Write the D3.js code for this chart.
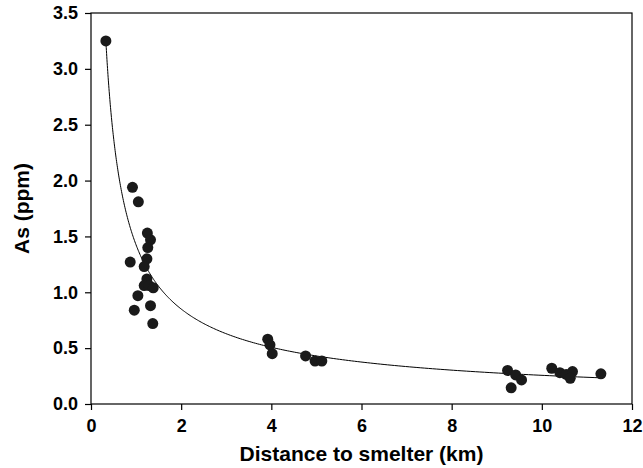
<!DOCTYPE html>
<html>
<head>
<meta charset="utf-8">
<script src="https://cdn.jsdelivr.net/npm/d3@7/dist/d3.min.js"></script>
<style>
  body { margin: 0; background: #fff; }
  svg { display: block; font-family: "Liberation Sans", Arial, sans-serif; }
</style>
</head>
<body>
<svg id="chart" width="643" height="468"></svg>
<script>
// distance to smelter (km) and As (ppm)
const distance = [
  0.33, 0.92, 1.05, 1.25, 1.32, 1.26, 1.24, 0.87, 1.18, 1.24, 1.18, 1.29,
  1.38, 1.04, 1.32, 0.96, 1.37,
  3.92, 3.97, 4.02, 4.76, 4.97, 5.12,
  9.24, 9.42, 9.55, 9.32, 10.22, 10.40, 10.54, 10.68, 10.63, 11.31
];
const arsenic = [
  3.25, 1.94, 1.81, 1.53, 1.47, 1.40, 1.30, 1.27, 1.23, 1.12, 1.06, 1.06,
  1.04, 0.97, 0.88, 0.84, 0.72,
  0.58, 0.53, 0.45, 0.43, 0.385, 0.385,
  0.30, 0.26, 0.215, 0.145, 0.32, 0.28, 0.265, 0.29, 0.23, 0.27
];

// power-law trend line y = a * x^b
const fitA = 1.424;
const fitB = -0.744;
const fitRange = [0.33, 11.31];

const xTicks = [0, 2, 4, 6, 8, 10, 12];
const yTicks = [0, 0.5, 1, 1.5, 2, 2.5, 3, 3.5];

const MARGIN = { LEFT: 91, RIGHT: 11, TOP: 13, BOTTOM: 64 };
const svg = d3.select("#chart");
const W = +svg.attr("width"), H = +svg.attr("height");

const x = d3.scaleLinear().domain([0, 12]).range([MARGIN.LEFT, W - MARGIN.RIGHT]);
const y = d3.scaleLinear().domain([0, 3.5]).range([H - MARGIN.BOTTOM, MARGIN.TOP]);

// frame
svg.append("rect")
  .attr("x", x(0)).attr("y", y(3.5))
  .attr("width", x(12) - x(0)).attr("height", y(0) - y(3.5))
  .attr("fill", "none").attr("stroke", "#000").attr("stroke-width", 1.2);

// axes
const xAxis = svg.append("g")
  .attr("transform", `translate(0,${y(0)})`)
  .call(d3.axisBottom(x).tickValues(xTicks).tickSize(6).tickPadding(9).tickFormat(d3.format("d")));
const yAxis = svg.append("g")
  .attr("transform", `translate(${x(0)},0)`)
  .call(d3.axisLeft(y).tickValues(yTicks).tickSize(6).tickPadding(7).tickFormat(d3.format(".1f")));
[xAxis, yAxis].forEach(g => {
  g.attr("font-family", "Liberation Sans, Arial, sans-serif")
    .attr("font-size", 18)
    .attr("font-weight", "bold");
  g.select(".domain").remove();
  g.selectAll(".tick line").attr("stroke", "#000").attr("stroke-width", 1.2);
  g.selectAll(".tick text").attr("fill", "#000");
});

// trend line
const fitPts = d3.range(0, 301).map(i => {
  const xv = fitRange[0] * Math.pow(fitRange[1] / fitRange[0], i / 300);
  return [xv, fitA * Math.pow(xv, fitB)];
});
svg.append("path")
  .datum(fitPts)
  .attr("fill", "none")
  .attr("stroke", "#000")
  .attr("stroke-width", 1)
  .attr("d", d3.line().x(d => x(d[0])).y(d => y(d[1])));

// points
svg.append("g")
  .selectAll("circle")
  .data(distance.map((d, i) => [d, arsenic[i]]))
  .join("circle")
  .attr("cx", d => x(d[0]))
  .attr("cy", d => y(d[1]))
  .attr("r", 5.5)
  .attr("fill", "#1a1a1a");

// axis titles
svg.append("text")
  .attr("x", (x(0) + x(12)) / 2)
  .attr("y", 461)
  .attr("text-anchor", "middle")
  .attr("font-size", 21)
  .attr("font-weight", "bold")
  .text("Distance to smelter (km)");

svg.append("text")
  .attr("transform", `translate(29,${(y(0) + y(3.5)) / 2}) rotate(-90)`)
  .attr("text-anchor", "middle")
  .attr("font-size", 21)
  .attr("font-weight", "bold")
  .text("As (ppm)");
</script>
</body>
</html>
